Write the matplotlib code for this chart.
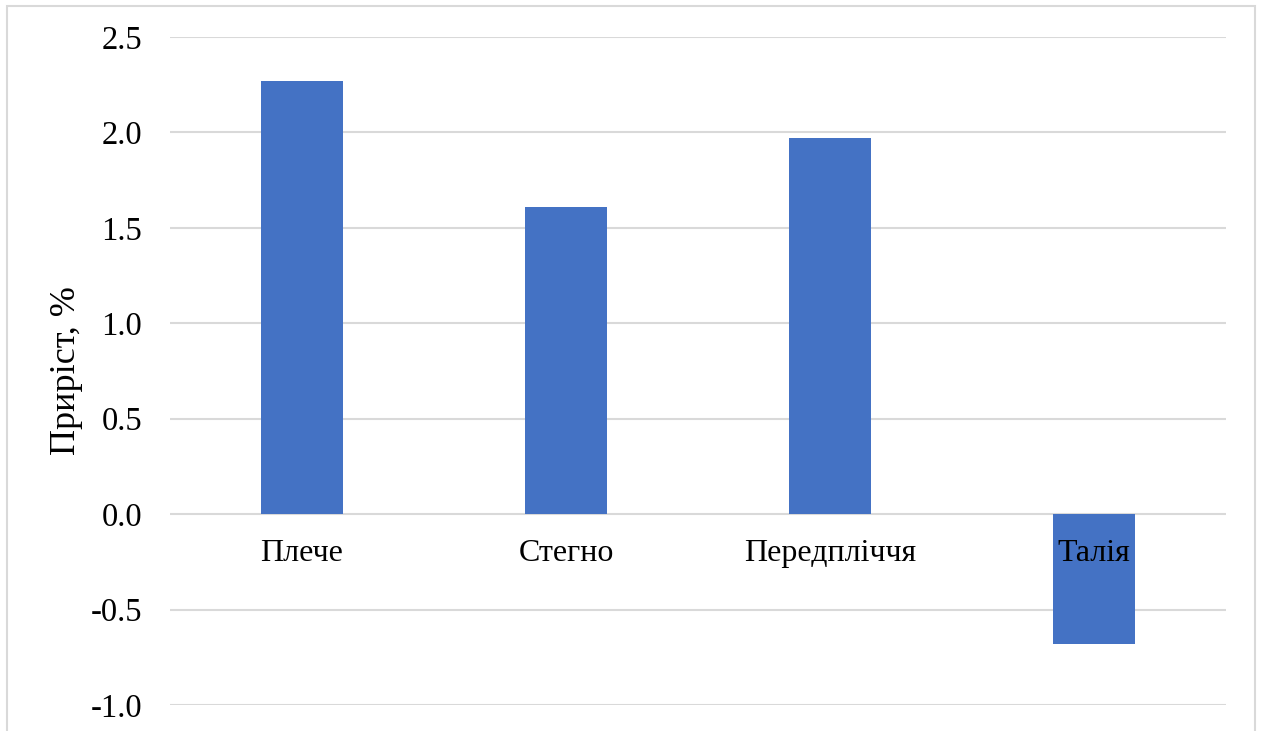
import matplotlib.pyplot as plt
from matplotlib.patches import Rectangle
from matplotlib.transforms import offset_copy

plt.rcParams['font.family'] = ['Liberation Serif', 'DejaVu Serif']

categories = ["Плече", "Стегно", "Передпліччя", "Талія"]
growth = [2.27, 1.61, 1.97, -0.68]
y_ticks = [-1.0, -0.5, 0.0, 0.5, 1.0, 1.5, 2.0, 2.5]

fig = plt.figure(figsize=(12.61, 7.31), dpi=100)
ax = fig.add_axes([0.1348, 0.0356, 0.8374, 0.9138])

x = range(len(categories))
ax.bar(x, growth, width=0.31, color="#4472C4", zorder=3)

ax.set_ylim(-1.0, 2.5)
ax.set_xlim(-0.5, len(categories) - 0.5)
ax.set_yticks(y_ticks)
ax.set_yticklabels([f"{v:.1f}" for v in y_ticks], fontsize=23.5)
ax.tick_params(axis="y", length=0, pad=20)
ax.set_xticks([])
ax.grid(axis="y", color="#D9D9D9", linewidth=1.5, zorder=0)
for s in ax.spines.values():
    s.set_visible(False)

# category names sit just under the zero line
label_tr = offset_copy(ax.transData, fig=fig, y=-28.5, units="points")
for i, name in enumerate(categories):
    ax.text(i, 0, name, transform=label_tr, ha="center", va="center",
            fontsize=23, zorder=4)

ax.set_ylabel("Приріст, %", fontsize=26, labelpad=5.5)

# thin chart-area frame
fig.patches.append(Rectangle((7 / 1261, -0.05), 1248 / 1261, 1.05 - 6 / 731,
                             transform=fig.transFigure, fill=False,
                             edgecolor="#D9D9D9", linewidth=1.5))

fig.savefig("out.png", dpi=100)
